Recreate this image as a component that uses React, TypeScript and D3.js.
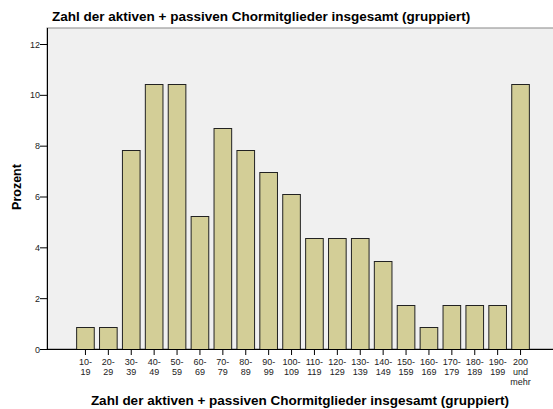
import React from "react";
import * as d3 from "d3";

const categories: string[][] = [
  ["10-", "19"], ["20-", "29"], ["30-", "39"], ["40-", "49"], ["50-", "59"],
  ["60-", "69"], ["70-", "79"], ["80-", "89"], ["90-", "99"], ["100-", "109"],
  ["110-", "119"], ["120-", "129"], ["130-", "139"], ["140-", "149"], ["150-", "159"],
  ["160-", "169"], ["170-", "179"], ["180-", "189"], ["190-", "199"], ["200", "und", "mehr"],
];
const percents: number[] = [
  0.87, 0.87, 7.83, 10.43, 10.43, 5.22, 8.7, 7.83, 6.96, 6.09,
  4.35, 4.35, 4.35, 3.48, 1.74, 0.87, 1.74, 1.74, 1.74, 10.43,
];
const yTicks: number[] = [0, 2, 4, 6, 8, 10, 12];

const W = 553, H = 409;
const left = 47, top = 28, bottom = 349;

export default function App() {
  const ids = categories.map((_, i) => String(i));
  const x = d3.scaleBand<string>().domain(ids).range([73.5, 531.5]).paddingInner(0.23).paddingOuter(0.115);
  const y = d3.scaleLinear().domain([0, 12]).range([bottom, 44]);
  const font = "'Liberation Sans', Arial, sans-serif";
  return (
    <svg width={W} height={H} style={{ position: "absolute", left: 0, top: 0 }} fontFamily={font}>
      <rect x={0} y={0} width={W} height={H} fill="#ffffff" />
      <rect x={left} y={top} width={W - left + 2} height={bottom - top} fill="#f0f0f0" stroke="#888888" strokeWidth={1} />
      {percents.map((v, i) => (
        <rect key={i} x={x(String(i))! + 0.5} y={Math.round(y(v)) + 0.5} width={x.bandwidth()} height={bottom - Math.round(y(v))}
          fill="#d3ce97" stroke="#222222" strokeWidth={1} />
      ))}
      <line x1={left + 0.5} x2={left + 0.5} y1={top} y2={bottom} stroke="#000" />
      <line x1={left} x2={W} y1={bottom + 0.5} y2={bottom + 0.5} stroke="#000" />
      {yTicks.map((t) => (
        <g key={t}>
          <line x1={left - 7} x2={left} y1={y(t) + 0.5} y2={y(t) + 0.5} stroke="#000" />
          <text x={left - 7} y={y(t) + 3.5} fontSize={9} textAnchor="end" fill="#222">{t}</text>
        </g>
      ))}
      {categories.map((c, i) => {
        const cx = x(String(i))! + x.bandwidth() / 2 + 0.5;
        return (
          <g key={i}>
            <line x1={cx} x2={cx} y1={bottom} y2={bottom + 6} stroke="#000" />
            {c.map((s, j) => (
              <text key={j} x={cx} y={365 + j * 10} fontSize={9} textAnchor="middle" fill="#222">{s}</text>
            ))}
          </g>
        );
      })}
      <text x={52} y={21} fontSize={13.5} fontWeight="bold" fill="#000">Zahl der aktiven + passiven Chormitglieder insgesamt (gruppiert)</text>
      <text x={300} y={405} fontSize={13.5} fontWeight="bold" textAnchor="middle" fill="#000">Zahl der aktiven + passiven Chormitglieder insgesamt (gruppiert)</text>
      <text transform={`translate(21,187) rotate(-90)`} fontSize={12.5} fontWeight="bold" textAnchor="middle" fill="#000">Prozent</text>
    </svg>
  );
}
